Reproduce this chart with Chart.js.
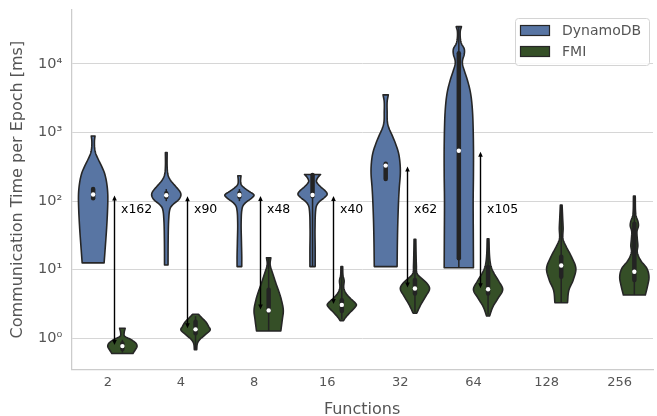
<!DOCTYPE html>
<html>
<head>
<meta charset="utf-8">
<script src="https://cdn.jsdelivr.net/npm/chart.js@4.4.1/dist/chart.umd.min.js"></script>
<style>
  html, body { margin: 0; padding: 0; background: #ffffff; overflow: hidden; }
  #wrap { width: 657px; height: 416px; position: relative; }
</style>
</head>
<body>
<div id="wrap"><canvas id="c" width="657" height="416"></canvas></div>
<script>
// ---- data -------------------------------------------------------------
const categories = ['2', '4', '8', '16', '32', '64', '128', '256'];
const seriesNames = ['DynamoDB', 'FMI'];
const yTickValues = [1, 10, 100, 1000, 10000];
const yTickLabels = ['10\u2070', '10\u00b9', '10\u00b2', '10\u00b3', '10\u2074'];

// medians per number of functions (ms)
const dynamoMedian = [125, 122, 123, 123, 330, 544, null, null];
const fmiMedian = [0.77, 1.35, 2.55, 3.07, 5.33, 5.18, 11.5, 9.35];

// inner box: [q1, q3] and whisker [low, high] (ms)
const dynamoQuartiles = [[110, 150], [115, 130], [116, 130], [118, 240], [210, 350], [14.7, 14300], null, null];
const fmiQuartiles = [[0.70, 0.84], [1.18, 1.75], [2.45, 5.1], [2.5, 3.6], [4.5, 7.1], [4.5, 11], [7.9, 15.5], [7.1, 47]];
const dynamoWhiskers = [[110, 150], [100, 150], [100, 150], [11.1, 245], [210, 350], [10.7, 35000], null, null];
const fmiWhiskers = [[0.62, 0.95], [0.7, 2.1], [1.28, 15], [1.9, 11], [2.4, 28], [2.2, 28], [3.3, 88], [4.3, 119]];

// kernel density profiles: [time ms, density relative to the violin's peak]
const dynamoDensity = [
  [[891, 0.13], [759, 0.09], [603, 0.10], [501, 0.17], [398, 0.37], [316, 0.60], [251, 0.79], [182, 0.93], [126, 1.0], [79, 0.99], [40, 0.92], [20, 0.82], [12.6, 0.75]],
  [[513, 0.06], [316, 0.06], [240, 0.12], [200, 0.30], [166, 0.62], [138, 0.93], [122, 1.0], [105, 0.85], [91, 0.50], [79, 0.27], [56, 0.17], [28, 0.13], [11.7, 0.12]],
  [[234, 0.11], [200, 0.08], [174, 0.12], [155, 0.35], [138, 0.68], [123, 1.0], [110, 0.82], [95, 0.42], [81, 0.20], [50, 0.12], [25, 0.14], [15.8, 0.16], [11.1, 0.16]],
  [[245, 0.55], [219, 0.35], [191, 0.27], [162, 0.55], [141, 0.87], [126, 1.0], [112, 0.80], [95, 0.40], [79, 0.23], [40, 0.17], [20, 0.18], [11.1, 0.18]],
  [[3548, 0.18], [2818, 0.10], [1995, 0.10], [1413, 0.12], [1122, 0.25], [933, 0.42], [692, 0.67], [501, 0.88], [355, 0.98], [251, 1.0], [158, 0.93], [100, 0.88], [50, 0.83], [25, 0.80], [11.1, 0.78]],
  [[35000, 0.18], [30200, 0.10], [24000, 0.10], [19950, 0.17], [16600, 0.37], [13800, 0.37], [11500, 0.26], [10000, 0.25], [7943, 0.38], [5890, 0.58], [3981, 0.78], [2692, 0.89], [1585, 0.96], [631, 1.0], [251, 1.0], [100, 0.98], [31.6, 0.99], [10.7, 1.0]],
  null,
  null
];
const fmiDensity = [
  [[1.40, 0.19], [1.20, 0.12], [1.07, 0.16], [0.955, 0.60], [0.85, 0.92], [0.76, 1.0], [0.68, 0.88], [0.60, 0.72]],
  [[2.24, 0.20], [2.0, 0.42], [1.74, 0.70], [1.48, 0.90], [1.32, 1.0], [1.12, 0.65], [0.955, 0.28], [0.83, 0.12], [0.68, 0.08]],
  [[14.96, 0.15], [12.6, 0.10], [11.2, 0.12], [8.9, 0.27], [6.3, 0.50], [4.79, 0.70], [3.63, 0.87], [2.57, 1.0], [1.86, 0.93], [1.28, 0.83]],
  [[11.1, 0.06], [8.3, 0.08], [6.9, 0.16], [5.5, 0.13], [4.57, 0.27], [3.8, 0.60], [3.31, 0.90], [3.06, 1.0], [2.75, 0.85], [2.34, 0.53], [2.0, 0.25], [1.81, 0.12]],
  [[27.8, 0.06], [15.8, 0.08], [11.2, 0.10], [8.9, 0.13], [7.9, 0.33], [6.3, 0.83], [5.25, 1.0], [4.07, 0.73], [3.09, 0.40], [2.32, 0.12]],
  [[28.3, 0.06], [15.8, 0.10], [11.2, 0.20], [8.9, 0.40], [6.8, 0.73], [5.13, 1.0], [3.8, 0.67], [2.88, 0.33], [2.11, 0.10]],
  [[87.9, 0.06], [56, 0.10], [40, 0.13], [28.2, 0.12], [21.9, 0.33], [15.5, 0.70], [10.5, 1.0], [7.08, 0.82], [5.0, 0.52], [3.30, 0.43]],
  [[119, 0.06], [63, 0.10], [50, 0.25], [43.6, 0.28], [36.3, 0.18], [28.2, 0.20], [22.4, 0.24], [17.8, 0.20], [13.5, 0.45], [10.5, 0.85], [7.9, 1.0], [5.75, 0.90], [4.28, 0.75]]
];

// ---- styling ------------------------------------------------------------
const FONT = 'DejaVu Sans';
const TEXT = '#555555';
const EDGE = '#262626';
const COLORS = ['#5875a3', '#354f27'];
const HUE_OFFSET = [-0.2, 0.2];   // dodge of each series inside a category
const VIOLIN_HALF = 0.2;          // half width of a violin at peak density (category units)
const ARROW_OFFSET = 0.085;
const RATIO_LABEL_AT = 76;        // vertical placement of the speed-up labels (ms)

const series = [
  { median: dynamoMedian, quart: dynamoQuartiles, whisk: dynamoWhiskers, dens: dynamoDensity },
  { median: fmiMedian, quart: fmiQuartiles, whisk: fmiWhiskers, dens: fmiDensity }
];

function medianPoints(values, offset) {
  return values.map((v, i) => (v == null ? null : { x: i + offset, y: v })).filter(Boolean);
}

// cubic Hermite resampling of a (y, halfWidth) profile, one sample per pixel
function smoothProfile(pts) {
  const n = pts.length;
  const tan = pts.map((p, k) => {
    const a = pts[Math.max(k - 1, 0)], b = pts[Math.min(k + 1, n - 1)];
    return (b.w - a.w) / ((b.y - a.y) || 1);
  });
  const out = [];
  for (let k = 0; k < n - 1; k++) {
    const p0 = pts[k], p1 = pts[k + 1], h = p1.y - p0.y;
    const steps = Math.max(2, Math.ceil(h));
    for (let s = 0; s < steps; s++) {
      const t = s / steps, t2 = t * t, t3 = t2 * t;
      const w = (2 * t3 - 3 * t2 + 1) * p0.w + (t3 - 2 * t2 + t) * h * tan[k] +
                (-2 * t3 + 3 * t2) * p1.w + (t3 - t2) * h * tan[k + 1];
      out.push({ y: p0.y + t * h, w: Math.max(w, 0.6) });
    }
  }
  out.push(pts[n - 1]);
  return out;
}

function drawViolin(ctx, xs, ys, center, profile, fill) {
  const unit = xs.getPixelForValue(1) - xs.getPixelForValue(0);
  const cx = xs.getPixelForValue(center);
  const pts = profile
    .map(([v, d]) => ({ y: ys.getPixelForValue(v), w: d * VIOLIN_HALF * unit }))
    .sort((a, b) => a.y - b.y);
  const s = smoothProfile(pts);
  ctx.beginPath();
  s.forEach((p, k) => (k ? ctx.lineTo(cx + p.w, p.y) : ctx.moveTo(cx + p.w, p.y)));
  for (let k = s.length - 1; k >= 0; k--) ctx.lineTo(cx - s[k].w, s[k].y);
  ctx.closePath();
  ctx.fillStyle = fill;
  ctx.fill();
  ctx.lineWidth = 1.6;
  ctx.lineJoin = 'round';
  ctx.strokeStyle = EDGE;
  ctx.stroke();
}

function drawBox(ctx, xs, ys, center, quart, whisk) {
  const cx = xs.getPixelForValue(center);
  ctx.strokeStyle = '#232323';
  if (whisk) {
    ctx.lineWidth = 1.5;
    ctx.lineCap = 'butt';
    ctx.beginPath();
    ctx.moveTo(cx, ys.getPixelForValue(whisk[1]));
    ctx.lineTo(cx, ys.getPixelForValue(whisk[0]));
    ctx.stroke();
  }
  if (quart) {
    ctx.lineWidth = 4.5;
    ctx.lineCap = 'round';
    ctx.beginPath();
    ctx.moveTo(cx, ys.getPixelForValue(quart[1]));
    ctx.lineTo(cx, ys.getPixelForValue(quart[0]));
    ctx.stroke();
  }
}

function arrowHead(ctx, x, y, dir) {
  ctx.beginPath();
  ctx.moveTo(x, y);
  ctx.lineTo(x - 2.3, y + dir * 5);
  ctx.lineTo(x + 2.3, y + dir * 5);
  ctx.closePath();
  ctx.fill();
}

const violinPlugin = {
  id: 'violins',
  beforeDatasetsDraw(chart) {
    const { ctx, scales: { x: xs, y: ys } } = chart;
    ctx.save();
    series.forEach((sr, si) => {
      categories.forEach((c, i) => {
        if (!sr.dens[i]) return;
        const center = i + HUE_OFFSET[si];
        drawViolin(ctx, xs, ys, center, sr.dens[i], COLORS[si]);
        drawBox(ctx, xs, ys, center, sr.quart[i], sr.whisk[i]);
      });
    });
    ctx.restore();
  },
  afterDatasetsDraw(chart) {
    const { ctx, chartArea, scales: { x: xs, y: ys } } = chart;
    ctx.save();
    // speed-up arrows between the two medians
    categories.forEach((c, i) => {
      const hi = dynamoMedian[i], lo = fmiMedian[i];
      if (hi == null || lo == null) return;
      const ax = Math.round(xs.getPixelForValue(i + ARROW_OFFSET)) + 0.5;
      const yTop = ys.getPixelForValue(hi) + 1;
      const yBot = ys.getPixelForValue(lo) - 1;
      ctx.strokeStyle = '#000';
      ctx.fillStyle = '#000';
      ctx.lineWidth = 1.4;
      ctx.beginPath();
      ctx.moveTo(ax, yTop + 3);
      ctx.lineTo(ax, yBot - 3);
      ctx.stroke();
      arrowHead(ctx, ax, yTop, 1);
      arrowHead(ctx, ax, yBot, -1);
      ctx.font = `12.5px "${FONT}"`;
      ctx.textAlign = 'left';
      ctx.textBaseline = 'middle';
      ctx.fillText('x' + Math.round(hi / lo), ax + 6.5, ys.getPixelForValue(RATIO_LABEL_AT));
    });

    // legend
    const w = 134, h = 47;
    const left = chartArea.right - 4 - w, top = chartArea.top + 8;
    ctx.beginPath();
    ctx.roundRect(left + 0.5, top + 0.5, w, h, 3);
    ctx.fillStyle = 'rgba(255,255,255,0.85)';
    ctx.fill();
    ctx.strokeStyle = '#d4d4d4';
    ctx.lineWidth = 1;
    ctx.stroke();
    seriesNames.forEach((name, k) => {
      const py = top + 7 + k * 21;
      ctx.fillStyle = COLORS[k];
      ctx.fillRect(left + 5.5, py + 0.5, 29, 10);
      ctx.strokeStyle = EDGE;
      ctx.lineWidth = 1.2;
      ctx.strokeRect(left + 5.5, py + 0.5, 29, 10);
      ctx.fillStyle = TEXT;
      ctx.font = `14px "${FONT}"`;
      ctx.textAlign = 'left';
      ctx.textBaseline = 'middle';
      ctx.fillText(name, left + 47, py + 6);
    });
    ctx.restore();
  }
};

new Chart(document.getElementById('c'), {
  type: 'scatter',
  data: {
    datasets: seriesNames.map((name, si) => ({
      label: name,
      data: medianPoints(series[si].median, HUE_OFFSET[si]),
      pointRadius: 2.2,
      pointBackgroundColor: '#ffffff',
      pointBorderWidth: 0,
      pointBorderColor: '#ffffff',
      showLine: false
    }))
  },
  options: {
    responsive: false,
    animation: false,
    events: [],
    layout: { padding: { top: 10, left: 0, right: 0, bottom: 0 } },
    plugins: { legend: { display: false }, tooltip: { enabled: false } },
    scales: {
      x: {
        type: 'linear',
        min: -0.5,
        max: 7.455,
        afterBuildTicks: ax => { ax.ticks = categories.map((c, i) => ({ value: i })); },
        afterFit: ax => { ax.height = 46.7; ax.paddingLeft = 0; ax.paddingRight = 0; },
        grid: { display: false },
        border: { color: '#cccccc', width: 1.25 },
        ticks: {
          callback: (v, idx) => categories[idx],
          font: { family: FONT, size: 13 },
          color: TEXT,
          padding: -2,
          maxRotation: 0,
          autoSkip: false
        },
        title: {
          display: true,
          text: 'Functions',
          font: { family: FONT, size: 16 },
          color: TEXT,
          padding: { top: 0, bottom: -3 }
        }
      },
      y: {
        type: 'logarithmic',
        min: 0.3532,
        max: 61236,
        afterBuildTicks: ax => { ax.ticks = yTickValues.map(v => ({ value: v })); },
        afterFit: ax => { ax.width = 71.2; ax.paddingTop = 0; ax.paddingBottom = 0; },
        grid: { color: '#d6d6d6', lineWidth: 1, drawTicks: false },
        border: { color: '#cccccc', width: 1.25 },
        ticks: {
          callback: (v, idx) => yTickLabels[idx],
          font: { family: FONT, size: 14.5 },
          color: TEXT,
          padding: 9
        },
        title: {
          display: true,
          text: 'Communication Time per Epoch [ms]',
          font: { family: FONT, size: 16 },
          color: TEXT,
          padding: { top: 8, bottom: 0 }
        }
      }
    }
  },
  plugins: [violinPlugin]
});
</script>
</body>
</html>
